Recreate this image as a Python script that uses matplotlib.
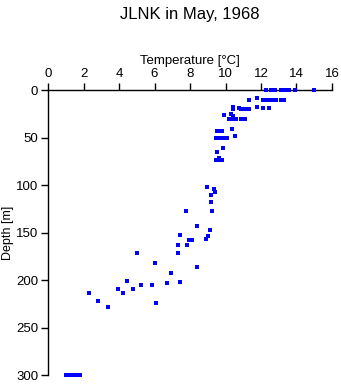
import matplotlib
matplotlib.use('Agg')
import matplotlib.pyplot as plt

plt.rcParams['font.family'] = ['Liberation Sans', 'DejaVu Sans']

# JLNK cast, May 1968: temperature [C] vs depth [m]
temperature = [
    12.3, 12.58, 12.8, 13.1, 13.2, 13.3, 13.4, 13.5, 13.6, 13.9, 15.0,
    11.34, 11.8, 12.13, 12.3, 12.45, 12.6, 12.85, 13.1, 13.3,
    10.4, 10.45, 10.74, 10.9, 11.0, 11.1, 11.2, 11.3, 11.75, 12.13, 12.47,
    9.93, 10.29, 10.4,
    10.2, 10.3, 10.5, 10.6, 10.9, 11.1,
    9.5, 9.63, 9.78, 10.35,
    9.45, 9.69, 9.88, 10.1, 10.55,
    9.88, 9.54, 9.47, 9.6, 9.65, 9.8, 9.65,
    8.98, 9.37, 9.43, 9.17, 9.18, 9.26, 7.79,
    8.38, 9.13, 9.03, 8.88, 7.45, 7.94, 8.13, 7.34, 7.85, 7.34,
    5.03, 6.05, 6.91, 8.41, 4.47, 6.72, 7.45, 5.26, 5.88,
    3.96, 4.81, 2.33, 4.24, 6.1, 2.83, 3.4,
    1.0, 1.2, 1.4, 1.6, 1.8,
]
depth = [
    0, 0, 0, 0, 0, 0, 0, 0, 0, 0, 0,
    10.9, 8.8, 10, 10, 10, 10, 10, 10, 10,
    18, 20.3, 19, 20, 20, 20, 20, 20, 18, 19, 19,
    26.6, 25, 27,
    30, 30, 30, 30, 30, 30,
    43.5, 43.2, 43.5, 41.4,
    50.5, 50, 50.5, 50, 48.8,
    61.4, 65.6, 73.3, 73.3, 73.3, 73.3, 72,
    102.5, 104.5, 107, 110.9, 118.2, 127.7, 127.7,
    143.5, 147.7, 153.7, 156.5, 152.3, 158.2, 158.2, 163.5, 163.5, 171.2,
    171.2, 182.5, 193, 186.3, 201.4, 203.5, 202.5, 205.3, 205.3,
    209.5, 209.5, 214, 214, 224.6, 222.5, 228.4,
    300, 300, 300, 300, 300,
]

fig = plt.figure(figsize=(3.41, 3.84), dpi=100)
ax = fig.add_axes([0.1408, 0.0234, 0.8328, 0.7422])

ax.plot(temperature, depth, linestyle='none', marker='s', markersize=2.4,
        color='#0000ff', markeredgewidth=0, clip_on=False, zorder=3,
        antialiased=False)

ax.set_xlim(0, 16)
ax.set_ylim(300, 0)
ax.set_xticks(range(0, 17, 2))
ax.set_yticks(range(0, 301, 50))
ax.xaxis.tick_top()
ax.xaxis.set_label_position('top')
ax.set_xlabel('Temperature [°C]', fontsize=9.5, labelpad=3)
ax.set_ylabel('Depth [m]', fontsize=9, va='center')
ax.yaxis.set_label_coords(-0.142, 0.498)
ax.tick_params(labelsize=9.5, direction='out', length=5, width=1, pad=2)

ax.spines['right'].set_visible(False)
ax.spines['bottom'].set_visible(False)
for s in ['left', 'top']:
    ax.spines[s].set_linewidth(1)

fig.text(0.557, 1 - 14 / 384, 'JLNK in May, 1968', ha='center', va='center',
         fontsize=12)

fig.savefig('out.png', dpi=100)
